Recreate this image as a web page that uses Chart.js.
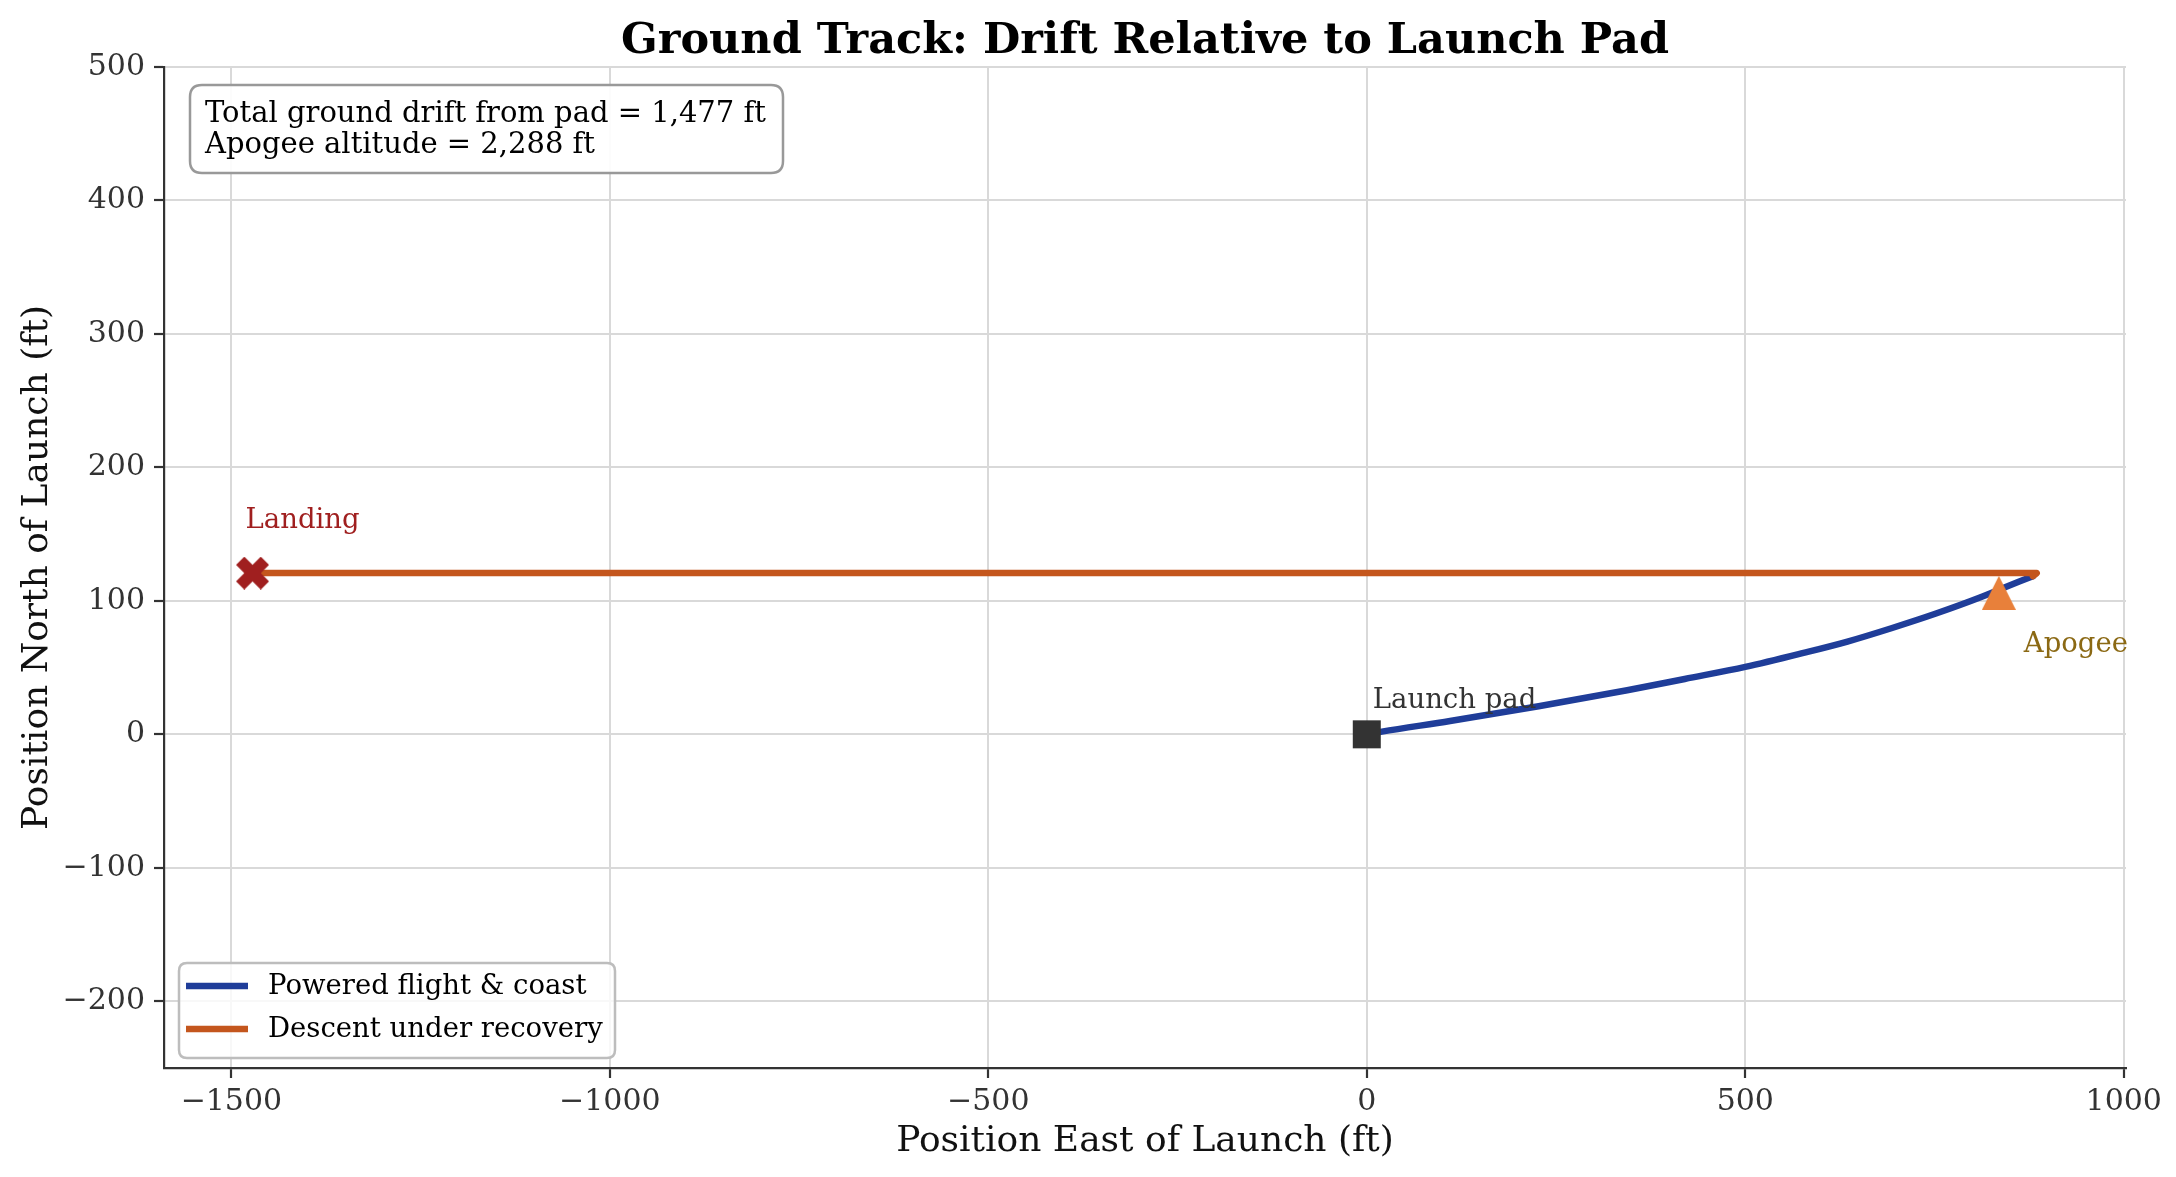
<!DOCTYPE html>
<html>
<head>
<meta charset="utf-8">
<title>Ground Track</title>
<script src="https://cdn.jsdelivr.net/npm/chart.js@4.4.1/dist/chart.umd.min.js"></script>
<style>
  html, body { margin: 0; padding: 0; background: #ffffff; }
  #chart { display: block; }
</style>
</head>
<body>
<canvas id="chart" width="2176" height="1177"></canvas>
<script>
// ---- data ----
const poweredEast  = [0, 20, 110, 227, 344, 420, 500, 577, 635, 693, 752, 810, 840, 862, 880];
const poweredNorth = [0, 2, 10, 21, 33, 41.5, 50.5, 61, 69.5, 79.5, 90.5, 102.5, 109.5, 114.5, 118.5];
const descentEast  = [880, 885, -1472];
const descentNorth = [118.5, 120.8, 120.8];
const padPoint     = [0, 0];
const apogeePoint  = [835, 106];
const landingPoint = [-1472, 120.8];
const xTicks = [-1500, -1000, -500, 0, 500, 1000];
const yTicks = [-200, -100, 0, 100, 200, 300, 400, 500];
const seriesLabels = ['Powered flight & coast', 'Descent under recovery'];
const statLines = ['Total ground drift from pad = 1,477 ft', 'Apogee altitude = 2,288 ft'];

const FONT = '"DejaVu Serif", "Liberation Serif", serif';
const BLUE = '#1f3d99';
const ORANGE = '#c4561d';

const toPoints = (xs, ys) => xs.map((x, i) => ({ x: x, y: ys[i] }));

// matplotlib-like marker images
function triangleMarker(size, color) {
    const c = document.createElement('canvas');
    c.width = size; c.height = size;
    const g = c.getContext('2d');
    g.fillStyle = color;
    g.beginPath();
    g.moveTo(size / 2, 0);
    g.lineTo(size, size);
    g.lineTo(0, size);
    g.closePath();
    g.fill();
    return c;
}

function filledXMarker(size, color) {
    const c = document.createElement('canvas');
    c.width = size; c.height = size;
    const g = c.getContext('2d');
    const h = size / 2;
    const t = h / 2;
    g.translate(h, h);
    g.fillStyle = color;
    g.beginPath();
    const pts = [[-h + t, -h], [0, -t], [h - t, -h], [h, -h + t], [t, 0], [h, h - t],
                 [h - t, h], [0, t], [-h + t, h], [-h, h - t], [-t, 0], [-h, -h + t]];
    pts.forEach((p, i) => i ? g.lineTo(p[0], p[1]) : g.moveTo(p[0], p[1]));
    g.closePath();
    g.fill();
    return c;
}

function roundRect(ctx, x, y, w, h, r) {
    ctx.beginPath();
    ctx.moveTo(x + r, y);
    ctx.lineTo(x + w - r, y);
    ctx.quadraticCurveTo(x + w, y, x + w, y + r);
    ctx.lineTo(x + w, y + h - r);
    ctx.quadraticCurveTo(x + w, y + h, x + w - r, y + h);
    ctx.lineTo(x + r, y + h);
    ctx.quadraticCurveTo(x, y + h, x, y + h - r);
    ctx.lineTo(x, y + r);
    ctx.quadraticCurveTo(x, y, x + r, y);
    ctx.closePath();
}

// titles, point labels, stats box, legend
const decorations = {
    id: 'decorations',
    afterDraw(chart) {
        const ctx = chart.ctx;
        const area = chart.chartArea;
        const xs = chart.scales.x, ys = chart.scales.y;
        const midX = (area.left + area.right) / 2;
        ctx.save();

        // title
        ctx.fillStyle = '#000';
        ctx.textAlign = 'center';
        ctx.textBaseline = 'alphabetic';
        ctx.font = 'bold 43px ' + FONT;
        ctx.fillText('Ground Track: Drift Relative to Launch Pad', midX, 53);

        // axis titles
        ctx.font = '36px ' + FONT;
        ctx.fillStyle = '#111';
        ctx.fillText('Position East of Launch (ft)', midX, 1151);
        ctx.save();
        ctx.translate(47, (area.top + area.bottom) / 2);
        ctx.rotate(-Math.PI / 2);
        ctx.fillText('Position North of Launch (ft)', 0, 0);
        ctx.restore();

        // point labels
        ctx.font = '27.5px ' + FONT;
        ctx.textAlign = 'left';
        const label = (pt, text, color, dx, dy) => {
            ctx.fillStyle = color;
            ctx.fillText(text, xs.getPixelForValue(pt[0]) + dx, ys.getPixelForValue(pt[1]) + dy);
        };
        label(padPoint, 'Launch pad', '#333333', 6, -26);
        label(apogeePoint, 'Apogee', '#8b6914', 25, 59);
        label(landingPoint, 'Landing', '#a01f1f', -7, -45);

        // stats box
        ctx.font = '29px ' + FONT;
        roundRect(ctx, 190, 85, 593, 88, 12);
        ctx.fillStyle = 'rgba(255,255,255,0.9)';
        ctx.fill();
        ctx.lineWidth = 2.5;
        ctx.strokeStyle = '#999999';
        ctx.stroke();
        ctx.fillStyle = '#000';
        statLines.forEach((s, i) => ctx.fillText(s, 205, 122 + i * 31));

        // legend
        ctx.font = '27.5px ' + FONT;
        roundRect(ctx, 179, 963, 436, 95, 8);
        ctx.fillStyle = 'rgba(255,255,255,0.8)';
        ctx.fill();
        ctx.lineWidth = 2.5;
        ctx.strokeStyle = '#bdbdbd';
        ctx.stroke();
        ctx.textBaseline = 'middle';
        chart.data.datasets.slice(0, 2).forEach((ds, i) => {
            const y = 986 + i * 43;
            ctx.strokeStyle = ds.borderColor;
            ctx.lineWidth = 6.5;
            ctx.lineCap = 'butt';
            ctx.beginPath();
            ctx.moveTo(186, y);
            ctx.lineTo(248, y);
            ctx.stroke();
            ctx.fillStyle = '#000';
            ctx.fillText(ds.label, 268, y + 1);
        });
        ctx.restore();
    }
};

const axisBase = (pad) => ({
    type: 'linear',
    grid: {
        color: '#d9d9d9',
        lineWidth: 2,
        tickColor: '#333333',
        tickWidth: 2.2,
        tickLength: 10
    },
    border: { display: true, color: '#333333', width: 2.2 },
    ticks: {
        color: '#333333',
        font: { family: FONT, size: 30 },
        padding: pad,
        maxRotation: 0,
        autoSkip: false,
        callback: (v) => (v < 0 ? '\u2212' + Math.abs(v) : String(v))
    }
});

const chart = new Chart(document.getElementById('chart'), {
    type: 'scatter',
    data: {
        datasets: [
            {
                label: seriesLabels[0],
                data: toPoints(poweredEast, poweredNorth),
                showLine: true,
                borderColor: BLUE,
                backgroundColor: BLUE,
                borderWidth: 6.5,
                pointRadius: 0,
                cubicInterpolationMode: 'monotone',
                borderCapStyle: 'round',
                order: 2
            },
            {
                label: seriesLabels[1],
                data: toPoints(descentEast, descentNorth),
                showLine: true,
                borderColor: ORANGE,
                backgroundColor: ORANGE,
                borderWidth: 6.5,
                pointRadius: 0,
                borderCapStyle: 'round',
                borderJoinStyle: 'round',
                order: 1
            },
            {
                label: 'pad',
                data: [{ x: padPoint[0], y: padPoint[1] }],
                pointStyle: 'rect',
                pointRadius: 19.8,
                backgroundColor: '#333333',
                borderWidth: 0,
                order: 0
            },
            {
                label: 'apogee',
                data: [{ x: apogeePoint[0], y: apogeePoint[1] }],
                pointStyle: triangleMarker(34, '#e8803a'),
                pointRadius: 17,
                order: 0
            },
            {
                label: 'landing',
                data: [{ x: landingPoint[0], y: landingPoint[1] }],
                pointStyle: filledXMarker(33, '#a01f1f'),
                pointRadius: 17,
                order: 0
            }
        ]
    },
    options: {
        responsive: false,
        animation: false,
        devicePixelRatio: 1,
        layout: { padding: { top: 67, right: 50, bottom: 0, left: 0 } },
        plugins: {
            legend: { display: false },
            tooltip: { enabled: false },
            title: { display: false }
        },
        scales: {
            x: Object.assign(axisBase(6), {
                position: 'bottom',
                min: -1589,
                max: 1003,
                afterBuildTicks: (s) => { s.ticks = xTicks.map(v => ({ value: v })); },
                afterFit: (s) => { s.height = 1177 - 1068; }
            }),
            y: Object.assign(axisBase(9), {
                position: 'left',
                min: -250,
                max: 500,
                afterBuildTicks: (s) => { s.ticks = yTicks.map(v => ({ value: v })); },
                afterFit: (s) => { s.width = 164; }
            })
        }
    },
    plugins: [decorations]
});
</script>
</body>
</html>
